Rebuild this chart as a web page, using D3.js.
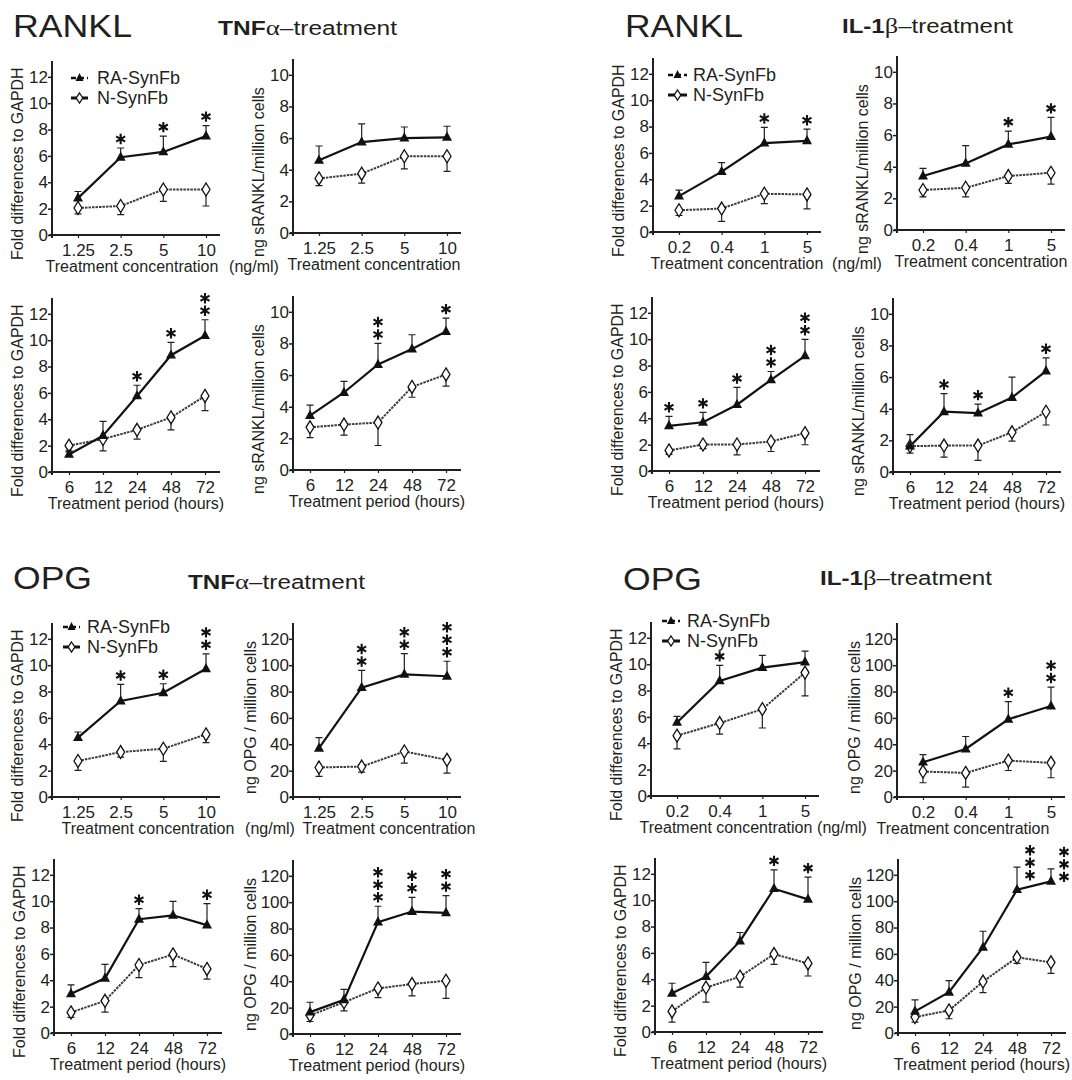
<!DOCTYPE html>
<html lang="en">
<head>
<meta charset="utf-8">
<title>RANKL and OPG expression</title>
<script src="https://cdn.jsdelivr.net/npm/d3@7"></script>
<style>
  body { margin: 0; background: #fff; }
</style>
</head>
<body>
<script>
// categories
var concTNF = ["1.25", "2.5", "5", "10"];
var concIL1 = ["0.2", "0.4", "1", "5"];
var hours = ["6", "12", "24", "48", "72"];

// RANKL, TNF-alpha, concentration, fold (mRNA)
var rankTnfConcFoldRA = [2.8, 5.9, 6.3, 7.5];
var rankTnfConcFoldRAsd = [0.5, 0.7, 1.2, 0.8];
var rankTnfConcFoldN = [2.05, 2.2, 3.45, 3.45];
var rankTnfConcFoldNsd = [0.45, 0.65, 0.9, 1.25];
var rankTnfConcFoldStars = [0, 1, 1, 1];
// RANKL, TNF-alpha, concentration, ng sRANKL
var rankTnfConcProtRA = [4.6, 5.75, 6.0, 6.05];
var rankTnfConcProtRAsd = [0.9, 1.15, 0.7, 0.7];
var rankTnfConcProtN = [3.45, 3.75, 4.85, 4.85];
var rankTnfConcProtNsd = [0.45, 0.6, 0.8, 0.95];
var rankTnfConcProtStars = [0, 0, 0, 0];
// RANKL, TNF-alpha, period, fold
var rankTnfTimeFoldRA = [1.33, 2.76, 5.77, 8.86, 10.34];
var rankTnfTimeFoldRAsd = [0.2, 1.08, 0.81, 0.98, 1.21];
var rankTnfTimeFoldN = [2.0, 2.5, 3.2, 4.14, 5.77];
var rankTnfTimeFoldNsd = [0.4, 0.9, 0.7, 0.94, 1.12];
var rankTnfTimeFoldStars = [0, 0, 1, 1, 2];
// RANKL, TNF-alpha, period, ng sRANKL
var rankTnfTimeProtRA = [3.44, 4.9, 6.67, 7.65, 8.75];
var rankTnfTimeProtRAsd = [0.66, 0.7, 1.33, 0.9, 0.85];
var rankTnfTimeProtN = [2.7, 2.87, 3.0, 5.25, 6.04];
var rankTnfTimeProtNsd = [0.65, 0.67, 1.45, 0.65, 0.74];
var rankTnfTimeProtStars = [0, 0, 2, 0, 1];

// RANKL, IL-1beta, concentration, fold
var rankIl1ConcFoldRA = [2.72, 4.58, 6.74, 6.92];
var rankIl1ConcFoldRAsd = [0.46, 0.68, 1.19, 0.88];
var rankIl1ConcFoldN = [1.65, 1.78, 2.9, 2.85];
var rankIl1ConcFoldNsd = [0.4, 0.97, 0.74, 1.1];
var rankIl1ConcFoldStars = [0, 0, 1, 1];
// RANKL, IL-1beta, concentration, ng sRANKL
var rankIl1ConcProtRA = [3.41, 4.21, 5.41, 5.9];
var rankIl1ConcProtRAsd = [0.49, 1.12, 0.84, 1.22];
var rankIl1ConcProtN = [2.53, 2.67, 3.41, 3.62];
var rankIl1ConcProtNsd = [0.43, 0.57, 0.46, 0.72];
var rankIl1ConcProtStars = [0, 0, 1, 1];
// RANKL, IL-1beta, period, fold
var rankIl1TimeFoldRA = [3.42, 3.7, 5.03, 6.92, 8.73];
var rankIl1TimeFoldRAsd = [0.73, 0.75, 1.31, 0.63, 1.26];
var rankIl1TimeFoldN = [1.56, 2.01, 2.01, 2.24, 2.87];
var rankIl1TimeFoldNsd = [0.3, 0.32, 0.78, 0.76, 0.88];
var rankIl1TimeFoldStars = [1, 1, 1, 2, 2];
// RANKL, IL-1beta, period, ng sRANKL
var rankIl1TimeProtRA = [1.63, 3.81, 3.72, 4.71, 6.38];
var rankIl1TimeProtRAsd = [0.73, 1.15, 0.57, 1.29, 0.84];
var rankIl1TimeProtN = [1.63, 1.67, 1.67, 2.51, 3.81];
var rankIl1TimeProtNsd = [0.44, 0.73, 0.94, 0.56, 0.84];
var rankIl1TimeProtStars = [0, 1, 1, 0, 1];

// OPG, TNF-alpha, concentration, fold
var opgTnfConcFoldRA = [4.5, 7.28, 7.91, 9.73];
var opgTnfConcFoldRAsd = [0.43, 1.26, 0.68, 1.13];
var opgTnfConcFoldN = [2.73, 3.41, 3.66, 4.75];
var opgTnfConcFoldNsd = [0.71, 0.38, 0.96, 0.63];
var opgTnfConcFoldStars = [0, 1, 1, 2];
// OPG, TNF-alpha, concentration, ng OPG
var opgTnfConcProtRA = [37, 83, 93, 91.6];
var opgTnfConcProtRAsd = [8, 13, 15.7, 11.4];
var opgTnfConcProtN = [22.4, 23.1, 34.5, 28.2];
var opgTnfConcProtNsd = [6.8, 4.2, 8.8, 10.1];
var opgTnfConcProtStars = [0, 2, 2, 3];
// OPG, TNF-alpha, period, fold
var opgTnfTimeFoldRA = [2.97, 4.15, 8.63, 8.93, 8.18];
var opgTnfTimeFoldRAsd = [0.68, 1.05, 0.8, 1.06, 1.63];
var opgTnfTimeFoldN = [1.56, 2.44, 5.16, 5.96, 4.86];
var opgTnfTimeFoldNsd = [0.38, 0.86, 0.96, 0.93, 0.78];
var opgTnfTimeFoldStars = [0, 0, 1, 0, 1];
// OPG, TNF-alpha, period, ng OPG
var opgTnfTimeProtRA = [16.6, 25.9, 84.9, 92.9, 91.9];
var opgTnfTimeProtRAsd = [7.5, 8, 12, 10.8, 13.1];
var opgTnfTimeProtN = [14.1, 24.1, 34.6, 37.9, 40.4];
var opgTnfTimeProtNsd = [4.6, 6.5, 7, 9, 13.3];
var opgTnfTimeProtStars = [0, 0, 3, 2, 2];

// OPG, IL-1beta, concentration, fold
var opgIl1ConcFoldRA = [5.58, 8.73, 9.74, 10.16];
var opgIl1ConcFoldRAsd = [0.46, 1.18, 0.93, 0.83];
var opgIl1ConcFoldN = [4.58, 5.53, 6.59, 9.36];
var opgIl1ConcFoldNsd = [1.01, 0.83, 1.43, 1.76];
var opgIl1ConcFoldStars = [0, 1, 0, 0];
// OPG, IL-1beta, concentration, ng OPG
var opgIl1ConcProtRA = [26.4, 36.4, 59, 69];
var opgIl1ConcProtRAsd = [5.7, 9.5, 13.3, 14.4];
var opgIl1ConcProtN = [19.3, 18.3, 27.6, 25.9];
var opgIl1ConcProtNsd = [8.5, 10.8, 7.5, 11.3];
var opgIl1ConcProtStars = [0, 0, 1, 2];
// OPG, IL-1beta, period, fold
var opgIl1TimeFoldRA = [2.94, 4.2, 6.89, 10.87, 10.06];
var opgIl1TimeFoldRAsd = [0.76, 1.08, 0.66, 1.43, 1.69];
var opgIl1TimeFoldN = [1.56, 3.37, 4.2, 5.91, 5.2];
var opgIl1TimeFoldNsd = [0.81, 1.11, 0.8, 0.78, 0.95];
var opgIl1TimeFoldStars = [0, 0, 0, 1, 1];
// OPG, IL-1beta, period, ng OPG
var opgIl1TimeProtRA = [16.4, 30.9, 64.9, 108.7, 115];
var opgIl1TimeProtRAsd = [8.8, 8.8, 12.3, 17.1, 9.5];
var opgIl1TimeProtN = [12.1, 17.1, 39, 57.4, 53.6];
var opgIl1TimeProtNsd = [3.8, 6.3, 8.3, 4.6, 8.3];
var opgIl1TimeProtStars = [0, 0, 0, 3, 3];

var seriesNames = ["RA-SynFb", "N-SynFb"];

var width = 1072;
var height = 1080;
var font = "'Liberation Sans', Arial, Helvetica, sans-serif";
var ink = "#231f20";

var measures = {
  fold:   { max: 12,  step: 2,  label: "Fold differences to GAPDH", labelDx: -35, labelDy: 25 },
  srankl: { max: 10,  step: 2,  label: "ng sRANKL/million cells",   labelDx: -35, labelDy: 24 },
  opg:    { max: 120, step: 20, label: "ng OPG / million cells",    labelDx: -43, labelDy: -3 }
};

var svg = d3.select("body").append("svg")
  .attr("width", width)
  .attr("height", height);

// marker shapes for d3.symbol
var triangle = { draw: function(ctx) {
  ctx.moveTo(0, -5.8); ctx.lineTo(5, 3.4); ctx.lineTo(-5, 3.4); ctx.closePath();
}};
var diamond = { draw: function(ctx) {
  ctx.moveTo(0, -6.5); ctx.lineTo(4, 0); ctx.lineTo(0, 6.5); ctx.lineTo(-4, 0); ctx.closePath();
}};
var smallTriangle = { draw: function(ctx) {
  ctx.moveTo(0, -5); ctx.lineTo(4, 3); ctx.lineTo(-4, 3); ctx.closePath();
}};
var smallDiamond = { draw: function(ctx) {
  ctx.moveTo(0, -5); ctx.lineTo(3.3, 0); ctx.lineTo(0, 5); ctx.lineTo(-3.3, 0); ctx.closePath();
}};

function P(ax, y0, cats, m, pre, xt, xs, extra) {
  var p = {
    ax: ax, y0: y0, cats: cats, m: m, xt: xt, xs: xs,
    ra: window[pre + "RA"], raSd: window[pre + "RAsd"],
    n: window[pre + "N"], nSd: window[pre + "Nsd"],
    stars: window[pre + "Stars"], starDx: 0, starDy: 0
  };
  return Object.assign(p, extra || {});
}

var CONC = "Treatment concentration";
var TIME = "Treatment period (hours)";

var panels = [
  P(52, 235, concTNF, "fold", "rankTnfConcFold", CONC, -4),
  P(293, 233, concTNF, "srankl", "rankTnfConcProt", CONC, -3),
  P(52, 472, hours, "fold", "rankTnfTimeFold", TIME, 0),
  P(293, 470, hours, "srankl", "rankTnfTimeProt", TIME, 0),

  P(653, 232, concIL1, "fold", "rankIl1ConcFold", CONC, 0),
  P(897, 230, concIL1, "srankl", "rankIl1ConcProt", CONC, 0),
  P(652, 471, hours, "fold", "rankIl1TimeFold", TIME, 0),
  P(893, 472, hours, "srankl", "rankIl1TimeProt", TIME, 0),

  P(52, 797, concTNF, "fold", "opgTnfConcFold", CONC, 12),
  P(293, 797, concTNF, "opg", "opgTnfConcProt", CONC, 12),
  P(54, 1033, hours, "fold", "opgTnfTimeFold", TIME, 0),
  P(293, 1034, hours, "opg", "opgTnfTimeProt", TIME, 0),

  P(651, 796, concIL1, "fold", "opgIl1ConcFold", CONC, -9),
  P(897, 797, concIL1, "opg", "opgIl1ConcProt", CONC, -18),
  P(655, 1032, hours, "fold", "opgIl1TimeFold", TIME, 0),
  P(898, 1033, hours, "opg", "opgIl1TimeProt", TIME, 0, { starDx: 13, starDy: 17 })
];

function drawPanel(p) {
  var m = measures[p.m];
  var y = d3.scaleLinear().domain([0, m.max * 1.1]).range([p.y0, p.y0 - 174]);
  var x = d3.scalePoint().domain(p.cats)
    .range(p.cats.length === 4 ? [p.ax + 26, p.ax + 154] : [p.ax + 17, p.ax + 153]);
  var g = svg.append("g");

  // x axis
  var xa = g.append("g").attr("transform", "translate(0," + p.y0 + ")")
    .call(d3.axisBottom(x).tickSize(3).tickPadding(6));
  xa.attr("font-size", 17).attr("font-family", font).style("color", ink);
  xa.select(".domain").attr("d", "M" + (p.ax - 3) + ",0H" + (p.ax + 168)).attr("stroke-width", 2);
  xa.selectAll(".tick line").attr("stroke-width", 1.2);

  // y axis
  var ya = g.append("g").attr("transform", "translate(" + p.ax + ",0)")
    .call(d3.axisLeft(y).tickValues(d3.range(0, m.max + 1, m.step))
      .tickSize(4).tickSizeOuter(0).tickPadding(0));
  ya.attr("font-size", 17).attr("font-family", font).style("color", ink);
  ya.select(".domain").attr("d", "M0," + (p.y0 + 3) + "V" + (p.y0 - 174)).attr("stroke-width", 2);
  ya.selectAll(".tick line").attr("stroke-width", 1.5);

  // axis titles
  g.append("text")
    .attr("transform", "translate(" + (p.ax + m.labelDx) + "," + (p.y0 + m.labelDy) + ") rotate(-90)")
    .attr("dy", "0.35em")
    .attr("font-size", 16).attr("font-family", font).attr("fill", ink)
    .text(m.label);
  g.append("text")
    .attr("x", p.ax + 84 + p.xs).attr("y", p.y0 + 37)
    .attr("text-anchor", "middle")
    .attr("font-size", 16).attr("font-family", font).attr("fill", ink)
    .text(p.xt);

  var raData = p.cats.map(function(c, i) { return { c: c, v: p.ra[i], sd: p.raSd[i], s: p.stars[i] }; });
  var nData = p.cats.map(function(c, i) { return { c: c, v: p.n[i], sd: p.nSd[i] }; });

  var line = d3.line().x(function(d) { return x(d.c); }).y(function(d) { return y(d.v); });

  // N-SynFb: line, error bars (down)
  g.append("path").datum(nData).attr("d", line)
    .attr("fill", "none").attr("stroke", "#3c3c3c").attr("stroke-width", 2).attr("stroke-dasharray", "2.5,1");
  g.selectAll(".nerr").data(nData).enter().append("path")
    .attr("d", function(d) {
      var cx = x(d.c), y1 = y(d.v), y2 = y(d.v - d.sd);
      return "M" + cx + "," + y1 + "V" + y2 + "M" + (cx - 3.5) + "," + y2 + "H" + (cx + 3.5);
    })
    .attr("fill", "none").attr("stroke", ink).attr("stroke-width", 1.2);

  // RA-SynFb: line, error bars (up)
  g.append("path").datum(raData).attr("d", line)
    .attr("fill", "none").attr("stroke", "#111").attr("stroke-width", 2.2);
  g.selectAll(".raerr").data(raData).enter().append("path")
    .attr("d", function(d) {
      var cx = x(d.c), y1 = y(d.v), y2 = y(d.v + d.sd);
      return "M" + cx + "," + y1 + "V" + y2 + "M" + (cx - 3.5) + "," + y2 + "H" + (cx + 3.5);
    })
    .attr("fill", "none").attr("stroke", ink).attr("stroke-width", 1.2);

  // markers
  g.selectAll(".nmark").data(nData).enter().append("path")
    .attr("transform", function(d) { return "translate(" + x(d.c) + "," + y(d.v) + ")"; })
    .attr("d", d3.symbol().type(diamond))
    .attr("fill", "#fff").attr("stroke", "#111").attr("stroke-width", 1.3);
  g.selectAll(".ramark").data(raData).enter().append("path")
    .attr("transform", function(d) { return "translate(" + x(d.c) + "," + y(d.v) + ")"; })
    .attr("d", d3.symbol().type(triangle))
    .attr("fill", "#111");

  // significance stars
  var starPts = [];
  raData.forEach(function(d) {
    for (var k = 0; k < d.s; k++) {
      starPts.push({ x: x(d.c) + p.starDx, y: y(d.v + d.sd) - 9 + p.starDy - k * 12.5 });
    }
  });
  g.selectAll(".star").data(starPts).enter().append("path")
    .attr("transform", function(d) { return "translate(" + d.x + "," + d.y + ")"; })
    .attr("d", d3.symbol().type(d3.symbolAsterisk).size(76))
    .attr("fill", "none").attr("stroke", "#111").attr("stroke-width", 2.1);
}

panels.forEach(drawPanel);

// quadrant headers
var headers = [
  { t: "RANKL", x: 13, y: 37, w: 119, cyt: "TNF", gr: "\u03b1", sx: 218, sy: 35, sw: 179, unitX: 254, unitY: 272,
    leg: { x1: 71, x2: 88, y: 78, tx: 97 } },
  { t: "RANKL", x: 625, y: 37, w: 118, cyt: "IL-1", gr: "\u03b2", sx: 842, sy: 33, sw: 171, unitX: 857, unitY: 269,
    leg: { x1: 668, x2: 687, y: 75, tx: 693 } },
  { t: "OPG", x: 13, y: 589, w: 79, cyt: "TNF", gr: "\u03b1", sx: 188, sy: 589, sw: 177, unitX: 270, unitY: 834,
    leg: { x1: 63, x2: 80, y: 627, tx: 87 } },
  { t: "OPG", x: 623, y: 590, w: 79, cyt: "IL-1", gr: "\u03b2", sx: 820, sy: 585, sw: 172, unitX: 842, unitY: 833,
    leg: { x1: 662, x2: 680, y: 621, tx: 687 } }
];

headers.forEach(function(h) {
  svg.append("text")
    .attr("x", h.x).attr("y", h.y)
    .attr("font-size", 31).attr("font-family", font).attr("fill", ink)
    .attr("textLength", h.w).attr("lengthAdjust", "spacingAndGlyphs")
    .text(h.t);

  var st = svg.append("text")
    .attr("x", h.sx).attr("y", h.sy)
    .attr("font-size", 20).attr("font-family", font).attr("fill", ink)
    .attr("textLength", h.sw).attr("lengthAdjust", "spacingAndGlyphs");
  st.append("tspan").attr("font-weight", "bold").text(h.cyt);
  st.append("tspan").attr("font-family", "'Liberation Serif', 'DejaVu Serif', serif").attr("font-size", 22).text(h.gr);
  st.append("tspan").text("\u2013treatment");

  svg.append("text")
    .attr("x", h.unitX).attr("y", h.unitY)
    .attr("text-anchor", "middle")
    .attr("font-size", 16).attr("font-family", font).attr("fill", ink)
    .text("(ng/ml)");

  // legend
  var L = h.leg;
  var lg = svg.append("g");
  var rows = seriesNames.map(function(s, i) { return { name: s, y: L.y + i * 20, i: i }; });
  lg.selectAll("line.leg").data(rows).enter().append("line")
    .attr("x1", L.x1).attr("x2", L.x2)
    .attr("y1", function(d) { return d.y; }).attr("y2", function(d) { return d.y; })
    .attr("stroke", "#111")
    .attr("stroke-width", function(d) { return d.i === 0 ? 2.5 : 3; })
    .attr("stroke-dasharray", function(d) { return d.i === 0 ? "5,3" : null; });
  lg.selectAll("path.leg").data(rows).enter().append("path")
    .attr("transform", function(d) { return "translate(" + ((L.x1 + L.x2) / 2) + "," + d.y + ")"; })
    .attr("d", function(d) { return d3.symbol().type(d.i === 0 ? smallTriangle : smallDiamond)(); })
    .attr("fill", function(d) { return d.i === 0 ? "#111" : "#fff"; })
    .attr("stroke", "#111").attr("stroke-width", function(d) { return d.i === 0 ? 0 : 1.3; });
  lg.selectAll("text.leg").data(rows).enter().append("text")
    .attr("x", L.tx).attr("y", function(d) { return d.y + 6; })
    .attr("font-size", 18).attr("font-family", font).attr("fill", ink)
    .text(function(d) { return d.name; });
});
</script>
</body>
</html>
